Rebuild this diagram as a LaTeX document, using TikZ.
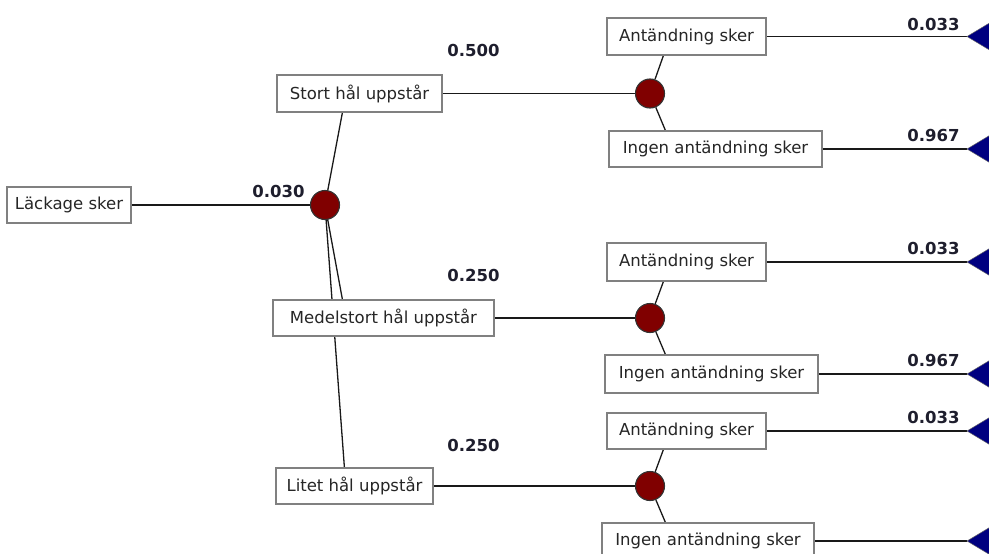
\documentclass[tikz,border=0pt]{standalone}
\usepackage{fontspec}
\setmainfont{DejaVu Sans}
\usetikzlibrary{backgrounds}
\definecolor{boxedge}{RGB}{128,128,128}
\definecolor{chancered}{RGB}{128,0,0}
\definecolor{endblue}{RGB}{0,0,128}
\definecolor{labelink}{RGB}{30,30,45}
\tikzset{
  optbox/.style={draw=boxedge, line width=1.2pt, fill=white, inner sep=0pt,
    minimum height=36, font=\fontsize{16.5}{18}\selectfont, text=black!85},
  chance/.style={circle, draw=black!80, line width=1.1pt, fill=chancered,
    minimum size=29, inner sep=0pt},
  prob/.style={font=\bfseries\fontsize{16.5}{18}\selectfont, text=labelink, inner sep=0pt},
  conn/.style={draw=black!90, line width=1.3pt},
  endtri/.style={fill=endblue, draw=black!60, line width=0.5pt}
}
\begin{document}
\begin{tikzpicture}[x=1pt, y=-1pt]
\useasboundingbox (0,0) rectangle (989,554);
\clip (0,0) rectangle (989,554);
% boxes
\node[optbox, minimum width=124] (L)  at (69,205)    {Läckage sker};
\node[optbox, minimum width=165, minimum height=37] (S)  at (359.5,93.5) {Stort hål uppstår};
\node[optbox, minimum width=221] (M)  at (383.5,318) {Medelstort hål uppstår};
\node[optbox, minimum width=157] (Li) at (354.5,486) {Litet hål uppstår};
\node[optbox, minimum width=159, minimum height=37] (A1) at (686.5,36.5) {Antändning sker};
\node[optbox, minimum width=213] (I1) at (715.5,149)  {Ingen antändning sker};
\node[optbox, minimum width=159, minimum height=38] (A2) at (686.5,262)  {Antändning sker};
\node[optbox, minimum width=213, minimum height=38] (I2) at (711.5,374)  {Ingen antändning sker};
\node[optbox, minimum width=159] (A3) at (686.5,431)  {Antändning sker};
\node[optbox, minimum width=212] (I3) at (708,541)    {Ingen antändning sker};
% chance nodes
\node[chance] (c0) at (325,205) {};
\node[chance] (c1) at (650,93.5) {};
\node[chance] (c2) at (650,318) {};
\node[chance] (c3) at (650,486) {};
% end node tips
\coordinate (t1) at (967,36.5);
\coordinate (t2) at (967,149);
\coordinate (t3) at (967,262);
\coordinate (t4) at (967,374);
\coordinate (t5) at (967,431);
\coordinate (t6) at (967,541);
\foreach \t in {t1,t2,t3,t4,t5,t6}{
  \path[endtri] (\t) -- ++(30,-18) -- ++(0,36) -- cycle;
}
% probabilities
\node[prob] (p0) at (278.5,191.5) {0.030};
\node[prob] (p1) at (473.5,50)    {0.500};
\node[prob] (p2) at (473.5,275)   {0.250};
\node[prob] (p3) at (473.5,445)   {0.250};
\node[prob] (q1) at (933.5,24)    {0.033};
\node[prob] (q2) at (933.5,135)   {0.967};
\node[prob] (q3) at (933.5,248)   {0.033};
\node[prob] (q4) at (933.5,360)   {0.967};
\node[prob] (q5) at (933.5,417)   {0.033};
% connectors
\begin{pgfonlayer}{background}
\draw[conn] (L.east) -- (c0);
\draw[conn] (c0) -- ([xshift=66]S.south west);
\draw[conn] (c0) -- ([xshift=70]M.north west);
\draw[conn] (c0) -- ([xshift=69]Li.north west);
\draw[conn] (S.east) -- (c1);
\draw[conn] (M.east) -- (c2);
\draw[conn] (Li.east) -- (c3);
\draw[conn] (c1) -- ([xshift=57]A1.south west);
\draw[conn] (c1) -- ([xshift=57]I1.north west);
\draw[conn] (c2) -- ([xshift=57]A2.south west);
\draw[conn] (c2) -- ([xshift=61]I2.north west);
\draw[conn] (c3) -- ([xshift=57]A3.south west);
\draw[conn] (c3) -- ([xshift=64]I3.north west);
\draw[conn] (A1.east) -- (t1);
\draw[conn] (I1.east) -- (t2);
\draw[conn] (A2.east) -- (t3);
\draw[conn] (I2.east) -- (t4);
\draw[conn] (A3.east) -- (t5);
\draw[conn] (I3.east) -- (t6);
\end{pgfonlayer}
\end{tikzpicture}
\end{document}
